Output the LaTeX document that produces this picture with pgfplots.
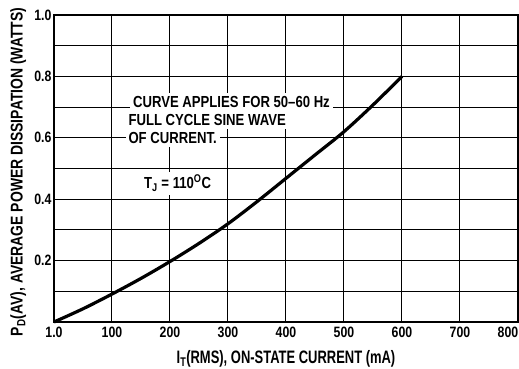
\documentclass[border=0pt]{standalone}
\usepackage{fontspec}
\setmainfont{Liberation Sans Bold}[FakeStretch=0.82]
\newfontfamily\xcond{Liberation Sans Bold}[FakeStretch=0.72]
\usepackage{pgfplots}
\pgfplotsset{compat=1.18}

\begin{document}
\begin{tikzpicture}
\useasboundingbox (-54pt,-47pt) rectangle (465pt,322pt);
\begin{axis}[
  scale only axis, width=464pt, height=307pt,
  xmin=0, xmax=800, ymin=0, ymax=1,
  xtick={0,100,...,800},
  xticklabels={1.0,100,200,300,400,500,600,700,{\hspace*{-20pt}800}},
  ytick={0,0.1,...,1.0},
  yticklabels={,,0.2,,0.4,,0.6,,0.8,,1.0},
  grid=major, major grid style={black, line width=1pt},
  tick style={draw=none},
  axis line style={line width=1.5pt},
  /pgf/number format/assume math mode=true,
  tick label style={font=\fontsize{15}{15}\selectfont},
  xticklabel style={yshift=-1pt},
  yticklabel style={xshift=1pt},
  xlabel={I\textsubscript{T}(RMS), ON-STATE CURRENT (mA)},
  ylabel={P\textsubscript{D}(AV), AVERAGE POWER DISSIPATION (WATTS)},
  xlabel style={font=\xcond\fontsize{18}{18}\selectfont, at={(rel axis cs:0.5,-0.12)}, anchor=center},
  ylabel style={font=\fontsize{17}{17}\selectfont, at={(rel axis cs:-0.077,0.489)}, anchor=center},
  clip=false,
]
\addplot[black, line width=3.2pt, smooth] coordinates {
  (0,0) (50,0.043) (100,0.091) (150,0.142) (200,0.197) (250,0.256)
  (300,0.32) (350,0.392) (400,0.468) (450,0.544) (500,0.62)
  (550,0.707) (600,0.8)};
\begin{scope}[every node/.style={font=\fontsize{16}{16}\selectfont, fill=white, inner sep=3pt, anchor=west}]
\node at (axis cs:131,0.717) {CURVE APPLIES FOR 50--60 Hz};
\node at (axis cs:123,0.658) {FULL CYCLE SINE WAVE};
\node at (axis cs:123,0.599) {OF CURRENT.};
\node at (axis cs:150,0.452) {T\textsubscript{J} = 110\textsuperscript{O}C};
\end{scope}
\end{axis}
\end{tikzpicture}
\end{document}
